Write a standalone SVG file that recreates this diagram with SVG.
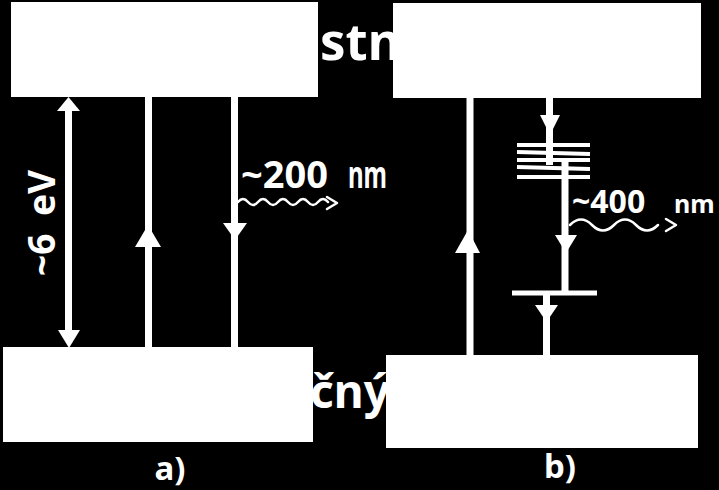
<svg xmlns="http://www.w3.org/2000/svg" width="719" height="490" viewBox="0 0 719 490">
<style>
.bg{fill:#000}
.box{fill:#fff}
.band{fill:#fff;font-family:"Noto Sans","Open Sans","DejaVu Sans",sans-serif;font-weight:bold}
.lbl{fill:#fff;font-family:"Noto Sans","Open Sans","DejaVu Sans",sans-serif;font-weight:bold}
.ln{stroke:#fff;stroke-width:7;fill:none}
.lvl{stroke:#fff;stroke-width:4;fill:none}
.head{fill:#fff}
.wave{stroke:#fff;stroke-width:2.5;fill:none;stroke-linecap:round;stroke-linejoin:round}
</style>
<rect class="bg" x="0" y="0" width="719" height="490"/>
<g id="band-text">
<text class="band" font-size="51" y="60"><tspan x="320" text-anchor="end">Vodivo</tspan><tspan x="320">stný pás</tspan></text>
<text class="band" font-size="46" y="408"><tspan x="310" text-anchor="end">Valen</tspan><tspan x="310">čný pás</tspan></text>
</g>
<g id="a-conduction"><rect class="box" x="11" y="2" width="307" height="95"/></g>
<g id="a-valence"><rect class="box" x="3" y="347" width="310" height="95"/></g>
<g id="b-conduction"><rect class="box" x="393" y="3" width="308" height="95"/></g>
<g id="b-valence"><rect class="box" x="386" y="355" width="312" height="93"/></g>
<g id="connectors">
<line class="ln" x1="68.5" y1="105" x2="68.5" y2="340"/>
<polygon class="head" points="68.5,97 80,111 57,111"/>
<polygon class="head" points="69,348 80,330 58,330"/>
<line class="ln" x1="148.5" y1="97" x2="148.5" y2="347"/>
<polygon class="head" points="148,225 161,247 135,247"/>
<line class="ln" x1="234.5" y1="97" x2="234.5" y2="347"/>
<polygon class="head" points="235,240 247,223 223,223"/>
<path class="wave" d="M238,202 q5,-6 10,0 t10,0 t10,0 t10,0 t10,0 t10,0 t10,0 t10,0 t10,0"/>
<polyline class="wave" points="327,197 337,203 327,209"/>
<line class="ln" x1="470" y1="98" x2="470" y2="355"/>
<polygon class="head" points="468,230 480,253 455,253"/>
<line class="ln" x1="549.5" y1="98" x2="549.5" y2="165"/>
<polygon class="head" points="550,135 560,115 540,115"/>
<line class="lvl" x1="517" y1="145" x2="590" y2="145"/>
<line class="lvl" x1="517" y1="152" x2="590" y2="154"/>
<line class="lvl" x1="517" y1="160" x2="590" y2="160"/>
<line class="lvl" x1="517" y1="167" x2="590" y2="169"/>
<line class="lvl" x1="517" y1="177" x2="590" y2="177"/>
<line class="ln" x1="565" y1="162" x2="565" y2="293"/>
<polygon class="head" points="566,253 577,235 555,235"/>
<line class="ln" x1="512" y1="293" x2="597" y2="293" style="stroke-width:5"/>
<line class="ln" x1="546.5" y1="293" x2="546.5" y2="355"/>
<polygon class="head" points="546.5,322 558,305 535,305"/>
<path class="wave" d="M570,225 q11,-11 22,0 t22,0 t22,0 t22,0"/>
<polyline class="wave" points="666,219 676,225 666,231"/>
</g>
<g id="labels">
<text class="lbl" font-size="37" transform="translate(55,0) rotate(-90)"><tspan x="-276">~6</tspan><tspan x="-216">eV</tspan></text>
<text class="lbl" font-size="38" y="188"><tspan x="241">~200</tspan><tspan x="348" textLength="39" lengthAdjust="spacingAndGlyphs">nm</tspan></text>
<text class="lbl" font-size="32" y="213"><tspan x="572">~400</tspan><tspan x="674" font-size="25">nm</tspan></text>
<text class="lbl" font-size="33" x="170" y="480" text-anchor="middle">a)</text>
<text class="lbl" font-size="33" x="560" y="478" text-anchor="middle">b)</text>
</g>
</svg>
